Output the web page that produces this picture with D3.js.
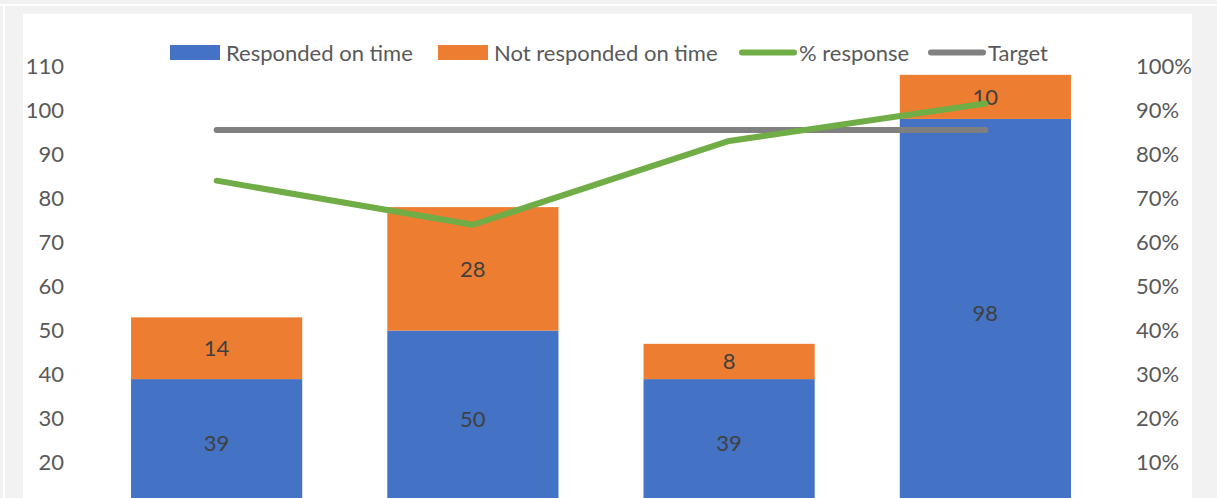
<!DOCTYPE html>
<html lang="en">
<head>
	<meta charset="UTF-8">
	<script src="https://d3js.org/d3.v7.min.js"></script>
	<title>Responses</title>
	<style>
		body { margin: 0; background: #f2f2f2; }
		svg { display: block; }
		text { font-family: Lato, "Open Sans", sans-serif; }
	</style>
</head>
<body>
	<svg width="1217" height="498"></svg>

	<script>
		// chart values
		const categories = ['Q1', 'Q2', 'Q3', 'Q4'];
		const onTime = [39, 50, 39, 98];
		const notOnTime = [14, 28, 8, 10];
		const pctResponse = [0.74, 0.64, 0.83, 0.915];
		const target = [0.855, 0.855, 0.855, 0.855];
		const leftTicks = [20, 30, 40, 50, 60, 70, 80, 90, 100, 110];
		const rightTicks = [0.1, 0.2, 0.3, 0.4, 0.5, 0.6, 0.7, 0.8, 0.9, 1.0];

		const svg = d3.select('svg');

		// panel background
		svg.append('rect').attr('x', 0).attr('y', 0).attr('width', 1217).attr('height', 498).attr('fill', '#f2f2f2');
		svg.append('rect').attr('x', 0).attr('y', 4).attr('width', 1217).attr('height', 2).attr('fill', '#fff');
		svg.append('rect').attr('x', 3).attr('y', 4).attr('width', 2).attr('height', 494).attr('fill', '#fff');
		svg.append('rect').attr('x', 23).attr('y', 14).attr('width', 1169).attr('height', 484).attr('fill', '#fff');

		const x = d3.scaleBand()
			.domain(categories)
			.range([88.5, 1113.5])
			.paddingInner(0.332)
			.paddingOuter(0.166);

		const yL = d3.scaleLinear().domain([10, 110]).range([507, 66]);
		const yR = d3.scaleLinear().domain([0, 1]).range([507, 66]);

		// axes (labels only)
		const axL = svg.append('g')
			.attr('transform', 'translate(70,0)')
			.call(d3.axisLeft(yL).tickValues(leftTicks).tickSize(0).tickPadding(6));
		const axR = svg.append('g')
			.attr('transform', 'translate(1130,0)')
			.call(d3.axisRight(yR).tickValues(rightTicks).tickSize(0).tickPadding(6).tickFormat(d3.format('.0%')));
		[axL, axR].forEach(g => {
			g.select('.domain').remove();
			g.selectAll('text')
				.attr('font-family', 'Lato, sans-serif')
				.attr('font-size', 22)
				.attr('fill', '#595959');
		});

		const stacked = categories.map((c, i) => ({
			cat: c,
			segs: [
				{ y0: 0, y1: onTime[i], v: onTime[i], color: '#4472c4' },
				{ y0: onTime[i], y1: onTime[i] + notOnTime[i], v: notOnTime[i], color: '#ed7d31' }
			]
		}));

		const bars = svg.append('g');
		stacked.forEach(d => {
			d.segs.forEach(s => {
				const top = yL(s.y1);
				const bot = yL(Math.max(s.y0, 10));
				bars.append('rect')
					.attr('x', x(d.cat))
					.attr('y', top)
					.attr('width', x.bandwidth())
					.attr('height', bot - top)
					.attr('fill', s.color);
				bars.append('text')
					.attr('x', x(d.cat) + x.bandwidth() / 2)
					.attr('y', (top + bot) / 2)
					.attr('dy', '0.35em')
					.attr('text-anchor', 'middle')
					.attr('font-size', 22)
					.attr('fill', '#404040')
					.text(s.v);
			});
		});

		const cx = c => x(c) + x.bandwidth() / 2;

		const line = d3.line()
			.x((d, i) => cx(categories[i]))
			.y(d => yR(d));

		svg.append('path')
			.datum(target)
			.attr('d', line)
			.attr('fill', 'none')
			.attr('stroke', '#808080')
			.attr('stroke-width', 6)
			.attr('stroke-linecap', 'round');

		svg.append('path')
			.datum(pctResponse)
			.attr('d', line)
			.attr('fill', 'none')
			.attr('stroke', '#70ad47')
			.attr('stroke-width', 6)
			.attr('stroke-linecap', 'round')
			.attr('stroke-linejoin', 'round');

		// legend
		const legend = svg.append('g').attr('font-size', 22).attr('fill', '#595959');
		const items = [
			{ label: 'Responded on time', type: 'rect', color: '#4472c4', x: 170, tx: 226 },
			{ label: 'Not responded on time', type: 'rect', color: '#ed7d31', x: 438, tx: 494 },
			{ label: '% response', type: 'line', color: '#70ad47', x: 742, tx: 799 },
			{ label: 'Target', type: 'line', color: '#808080', x: 931, tx: 988 }
		];
		items.forEach(it => {
			if (it.type === 'rect') {
				legend.append('rect').attr('x', it.x).attr('y', 45).attr('width', 50).attr('height', 15).attr('fill', it.color);
			} else {
				legend.append('line').attr('x1', it.x).attr('x2', it.x + 52).attr('y1', 52.5).attr('y2', 52.5)
					.attr('stroke', it.color).attr('stroke-width', 6).attr('stroke-linecap', 'round');
			}
			legend.append('text').attr('x', it.tx).attr('y', 53).attr('dy', '0.35em').text(it.label);
		});
	</script>
</body>
</html>
